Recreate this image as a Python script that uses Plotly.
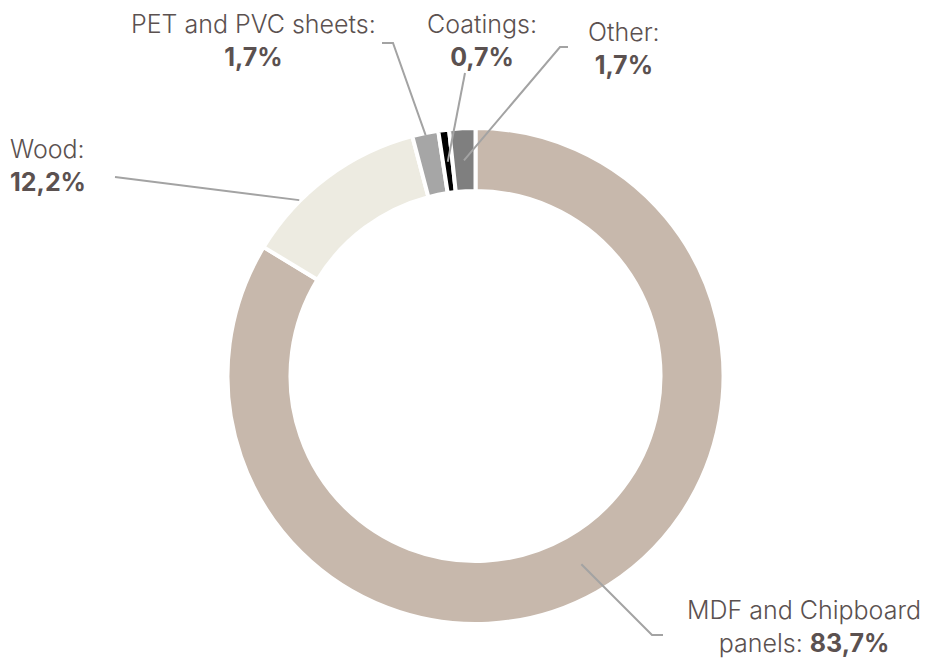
import math
import plotly.graph_objects as go

# ---- data ----
labels = ["MDF and Chipboard panels", "Wood", "PET and PVC sheets", "Coatings", "Other"]
values = [83.7, 12.2, 1.7, 0.7, 1.7]
value_text = ["83,7%", "12,2%", "1,7%", "0,7%", "1,7%"]
colors = ["#C7B8AC", "#EDEBE1", "#A6A6A6", "#000000", "#7F7F7F"]

# page body has an 8px margin; figure is sized to fit the window
OFF = 8
W, H = 931 - OFF, 662 - OFF
CX, CY, R = 475.5, 376.0, 248.0
HOLE = 0.746

TEXT_COLOR = "#5B5150"
LINE_COLOR = "#A3A3A3"
FONT = "Inter"
FS = 25
ASC = 0.969 * FS   # ascent above first baseline

def px(x):
    return (x - OFF) / W

def py(y):
    return 1 - (y - OFF) / H

total = sum(values)
starts = []
acc = 0.0
for v in values:
    starts.append(acc)
    acc += v

def slice_point(i, frac, r):
    ang = (starts[i] + values[i] * frac) / total * 2 * math.pi
    return CX + r * math.sin(ang), CY - r * math.cos(ang)

fig = go.Figure()
fig.add_trace(go.Pie(
    labels=labels, values=values, sort=False, direction="clockwise", rotation=0,
    hole=HOLE, textinfo="none", hoverinfo="label+percent",
    marker=dict(colors=colors, line=dict(color="white", width=4)),
    domain=dict(x=[px(CX - R), px(CX + R)], y=[py(CY + R), py(CY - R)]),
    showlegend=False,
))

# leader lines: (slice index, fraction within slice, radius, elbow points)
leaders = [
    (0, 0.5, 216, [(652, 635), (663, 635)]),
    (1, 0.31, 249, [(115, 177)]),
    (2, 0.5, 246, [(393, 43), (382, 43)]),
    (3, 0.5, 216, [(465, 73)]),
    (4, 0.5, 216, [(560, 47), (568, 47)]),
]
for i, frac, r, pts in leaders:
    x0, y0 = slice_point(i, frac, r)
    path = f"M {px(x0)},{py(y0)}" + "".join(f" L {px(x)},{py(y)}" for x, y in pts)
    fig.add_shape(type="path", path=path, xref="paper", yref="paper",
                  line=dict(color=LINE_COLOR, width=2), layer="above")

# labels: (slice index, x, first-line baseline y, xanchor, align, template)
label_specs = [
    (0, 804, 618, "center", "center", "MDF and Chipboard<br>panels: <b>{v}</b>"),
    (1, 9, 157, "left", "left", "Wood:<br><b>{v}</b>"),
    (2, 253, 32, "center", "center", "PET and PVC sheets:<br><b>{v}</b>"),
    (3, 482, 32, "center", "center", "Coatings:<br><b>{v}</b>"),
    (4, 624, 40, "center", "center", "Other:<br><b>{v}</b>"),
]
for i, x, base, xa, al, tpl in label_specs:
    fig.add_annotation(
        x=px(x), y=py(base - ASC), xref="paper", yref="paper",
        xanchor=xa, yanchor="top", align=al, showarrow=False, borderpad=0,
        text=tpl.format(v=value_text[i]),
        font=dict(family=FONT, size=FS, color=TEXT_COLOR, weight=300),
    )

fig.update_layout(
    width=W, height=H, margin=dict(l=0, r=0, t=0, b=0),
    paper_bgcolor="white", plot_bgcolor="white",
)

fig.write_html("out.html")
